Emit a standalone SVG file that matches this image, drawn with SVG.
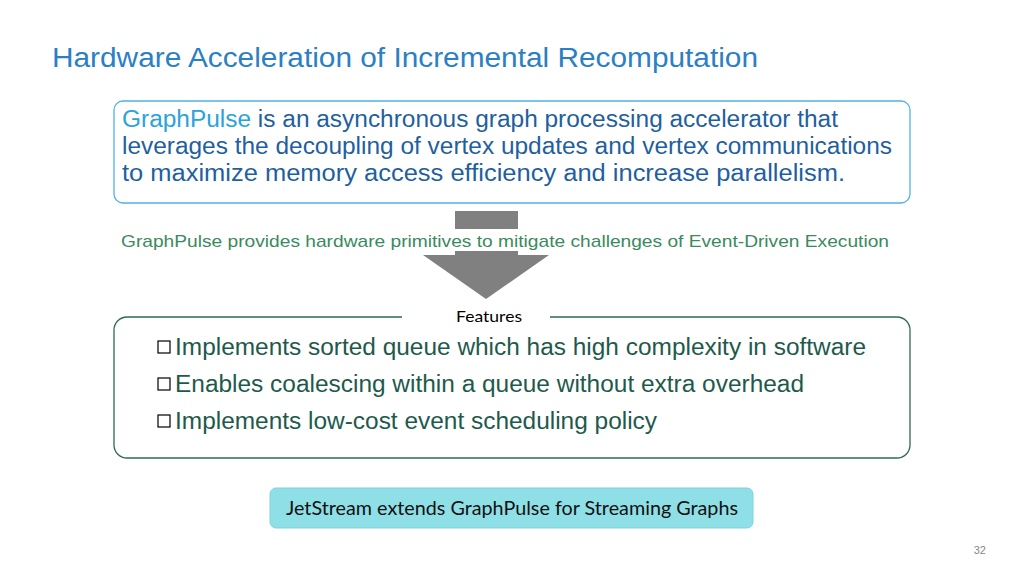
<svg xmlns="http://www.w3.org/2000/svg" width="1024" height="576" viewBox="0 0 1024 576">
<style>
.s{font-family:"Liberation Sans",Arial,sans-serif}
.c{font-family:Lato,"Open Sans",sans-serif}
.b{font-size:23px;fill:#1e5a4c}
.d{font-size:23px;fill:#1f5fa0}
</style>
<rect width="1024" height="576" fill="#fff"/>
<text class="s" x="52" y="67" font-size="27" fill="#2b7fc4" textLength="706" lengthAdjust="spacingAndGlyphs">Hardware Acceleration of Incremental Recomputation</text>
<g id="intro">
<rect x="114" y="101" width="796" height="102" rx="9" fill="#fff" stroke="#4fb3e0" stroke-width="1.3"/>
<text class="s d" x="122" y="127" textLength="716" lengthAdjust="spacingAndGlyphs"><tspan fill="#2aa3dc">GraphPulse</tspan> is an asynchronous graph processing accelerator that</text>
<text class="s d" x="122" y="154" textLength="770" lengthAdjust="spacingAndGlyphs">leverages the decoupling of vertex updates and vertex communications</text>
<text class="s d" x="122" y="181" textLength="723" lengthAdjust="spacingAndGlyphs">to maximize memory access efficiency and increase parallelism.</text>
</g>
<g id="arrow">
<rect x="455" y="211" width="63" height="45" fill="#808080"/>
<polygon points="423,255 549,255 486,299" fill="#808080"/>
<rect x="110" y="229" width="800" height="22" fill="#fff"/>
<text class="s" x="121" y="247" font-size="17" fill="#3a8a5e" textLength="768" lengthAdjust="spacingAndGlyphs">GraphPulse provides hardware primitives to mitigate challenges of Event-Driven Execution</text>
</g>
<g id="features">
<path d="M402,317 H127 A13,13 0 0 0 114,330 V445 A13,13 0 0 0 127,458 H897 A13,13 0 0 0 910,445 V330 A13,13 0 0 0 897,317 H550" fill="none" stroke="#2e6b55" stroke-width="1.3"/>
<text class="c" x="456" y="322" font-size="16" fill="#000" textLength="66" lengthAdjust="spacingAndGlyphs">Features</text>
<g fill="none" stroke="#000" stroke-width="1.2">
<rect x="158" y="341" width="12" height="12"/>
<rect x="158" y="378" width="12" height="12"/>
<rect x="158" y="415" width="12" height="12"/>
</g>
<text class="s b" x="175" y="355" textLength="691" lengthAdjust="spacingAndGlyphs">Implements sorted queue which has high complexity in software</text>
<text class="s b" x="175" y="392" textLength="629" lengthAdjust="spacingAndGlyphs">Enables coalescing within a queue without extra overhead</text>
<text class="s b" x="175" y="429" textLength="482" lengthAdjust="spacingAndGlyphs">Implements low-cost event scheduling policy</text>
</g>
<g id="jetstream">
<rect x="270" y="488" width="483" height="40" rx="6" fill="#8edfe6" stroke="#7fd3dc"/>
<text class="c" x="286" y="515" font-size="19" fill="#111" textLength="452" lengthAdjust="spacingAndGlyphs">JetStream extends GraphPulse for Streaming Graphs</text>
</g>
<text class="s" x="986" y="554" font-size="11" fill="#888" text-anchor="end">32</text>
<g id="connectors"/>
</svg>
